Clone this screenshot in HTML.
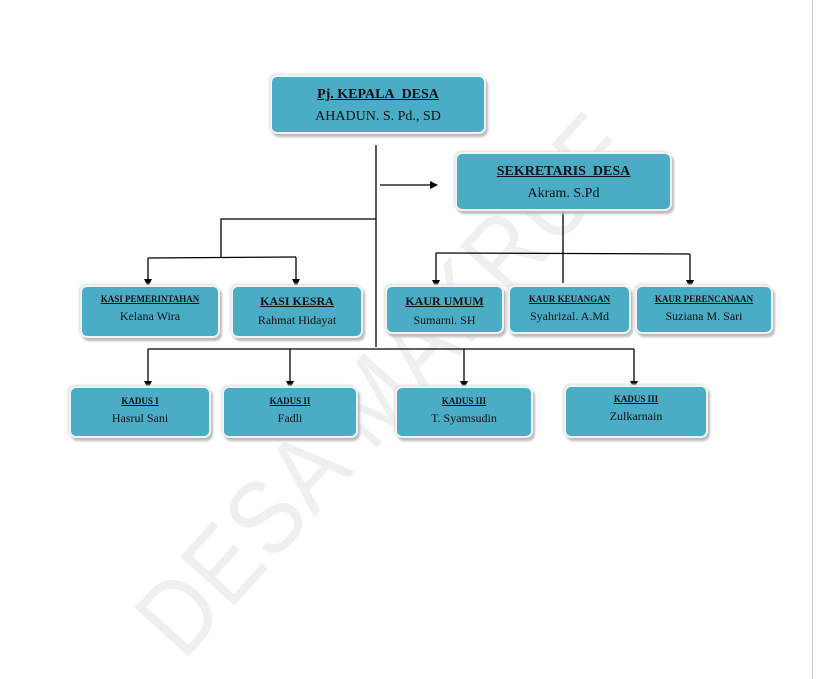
<!DOCTYPE html>
<html><head><style>
html,body{margin:0;width:818px;height:679px;overflow:hidden;}
body{background:#fff;position:relative;font-family:"Liberation Serif",serif;}
.b{position:absolute;background:#4bacc6;border-radius:7px;box-shadow:2px 3px 2px #bbb,-1px -1px 2px #ddd;border:2px solid #f2f2f2;text-align:center;color:#111;box-sizing:border-box;}
.t{font-weight:bold;text-decoration:underline;}
.wm{position:absolute;left:385px;top:385px;font-family:"Liberation Sans",sans-serif;font-size:92px;color:#efefef;transform:translate(-50%,-50%) rotate(-48deg) scaleY(1.15);white-space:nowrap;letter-spacing:2px;line-height:1;}
</style></head><body>
<div class="wm">DESA MAKRUF</div>
<div style="position:absolute;left:812px;top:0;width:1px;height:679px;background:#ccc"></div>
<svg width="818" height="679" style="position:absolute;left:0;top:0">
<defs><marker id="a" markerWidth="8" markerHeight="8" refX="7" refY="4" orient="auto" markerUnits="userSpaceOnUse"><path d="M0,0L8,4L0,8z" fill="#000"/></marker></defs>
<g stroke="#000" stroke-width="1.3" fill="none">
<line x1="376" y1="145" x2="376" y2="347"/>
<line x1="380" y1="185" x2="437" y2="185" marker-end="url(#a)"/>
<polyline points="376,219 221,219 221,257"/>
<line x1="148" y1="258" x2="296" y2="257"/>
<line x1="148" y1="258" x2="148" y2="286" marker-end="url(#a)"/>
<line x1="296" y1="257" x2="296" y2="286" marker-end="url(#a)"/>
<line x1="563" y1="210" x2="563" y2="283"/>
<line x1="436" y1="253" x2="690" y2="254"/>
<line x1="436" y1="253" x2="436" y2="287" marker-end="url(#a)"/>
<line x1="690" y1="254" x2="690" y2="287" marker-end="url(#a)"/>
<line x1="148" y1="349" x2="634" y2="349"/>
<line x1="148" y1="349" x2="148" y2="388" marker-end="url(#a)"/>
<line x1="290" y1="349" x2="290" y2="388" marker-end="url(#a)"/>
<line x1="464" y1="349" x2="464" y2="388" marker-end="url(#a)"/>
<line x1="634" y1="349" x2="634" y2="388" marker-end="url(#a)"/>
</g></svg>
<div class="b" style="left:270px;top:75px;width:216px;height:59px;padding-top:10px"><div class="t" style="font-size:14px">Pj. KEPALA&nbsp; DESA</div><div style="font-size:14px;margin-top:6px">AHADUN. S. Pd., SD</div></div>
<div class="b" style="left:455px;top:152px;width:217px;height:59px;padding-top:10px"><div class="t" style="font-size:14px">SEKRETARIS&nbsp; DESA</div><div style="font-size:14px;margin-top:6px">Akram. S.Pd</div></div>
<div class="b" style="left:80px;top:285px;width:140px;height:53px;padding-top:7px"><div class="t" style="font-size:9px">KASI PEMERINTAHAN</div><div style="font-size:12px;margin-top:5px">Kelana Wira</div></div>
<div class="b" style="left:231px;top:285px;width:132px;height:53px;padding-top:7px"><div class="t" style="font-size:12px">KASI KESRA</div><div style="font-size:12px;margin-top:4px">Rahmat Hidayat</div></div>
<div class="b" style="left:385px;top:285px;width:119px;height:49px;padding-top:7px"><div class="t" style="font-size:12px">KAUR UMUM</div><div style="font-size:12px;margin-top:4px">Sumarni. SH</div></div>
<div class="b" style="left:508px;top:285px;width:123px;height:49px;padding-top:7px"><div class="t" style="font-size:9px">KAUR KEUANGAN</div><div style="font-size:12px;margin-top:5px">Syahrizal. A.Md</div></div>
<div class="b" style="left:635px;top:285px;width:138px;height:49px;padding-top:7px"><div class="t" style="font-size:9px">KAUR PERENCANAAN</div><div style="font-size:12px;margin-top:5px">Suziana M. Sari</div></div>
<div class="b" style="left:69px;top:386px;width:142px;height:52px;padding-top:8px"><div class="t" style="font-size:9px">KADUS I</div><div style="font-size:12px;margin-top:5px">Hasrul Sani</div></div>
<div class="b" style="left:222px;top:386px;width:136px;height:52px;padding-top:8px"><div class="t" style="font-size:9px">KADUS II</div><div style="font-size:12px;margin-top:5px">Fadli</div></div>
<div class="b" style="left:395px;top:386px;width:138px;height:52px;padding-top:8px"><div class="t" style="font-size:9px">KADUS III</div><div style="font-size:12px;margin-top:5px">T. Syamsudin</div></div>
<div class="b" style="left:564px;top:385px;width:144px;height:53px;padding-top:7px"><div class="t" style="font-size:9px">KADUS III</div><div style="font-size:12px;margin-top:5px">Zulkarnain</div></div>
</body></html>
